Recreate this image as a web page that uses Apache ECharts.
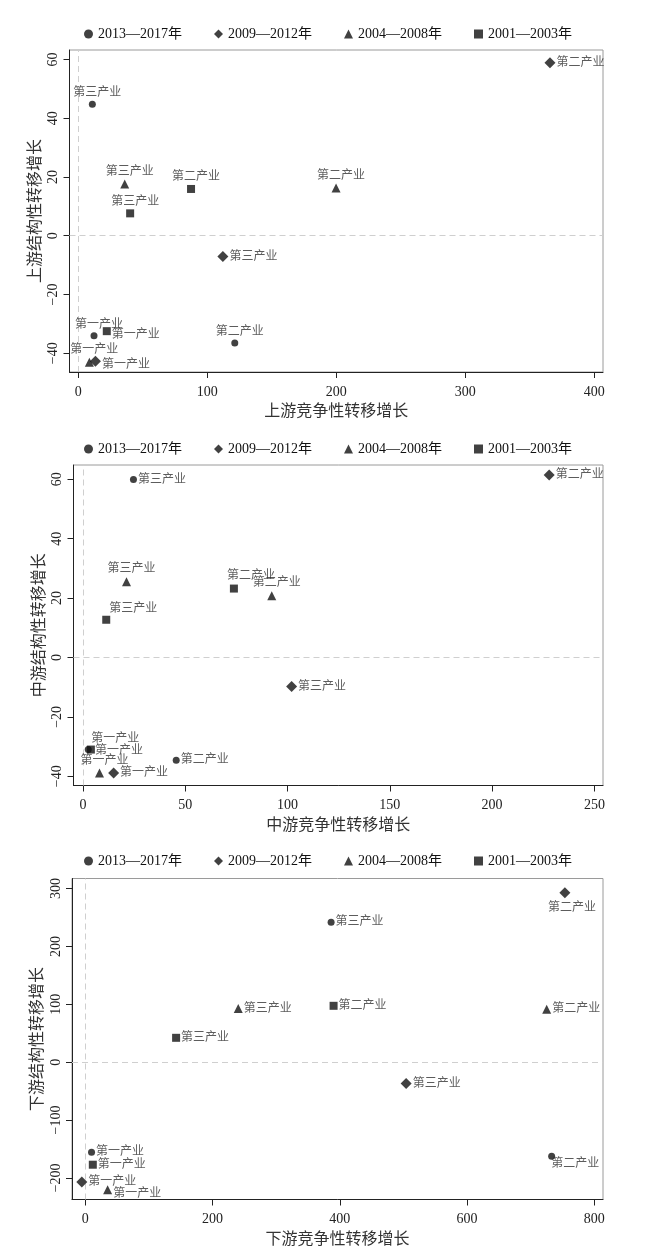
<!DOCTYPE html>
<html><head><meta charset="utf-8">
<script src="https://cdn.jsdelivr.net/npm/echarts@6/dist/echarts.min.js"></script>
<style>html,body{margin:0;padding:0;background:#fff}#c{width:650px;height:1260px}</style>
</head><body><div id="c"></div>
<script>
// ---------------- DATA ----------------
const periods = ['2013—2017年', '2009—2012年', '2004—2008年', '2001—2003年'];
const industries = ['第一产业', '第二产业', '第三产业'];

// 上游: [第一产业, 第二产业, 第三产业]
const upX_2013 = [12.2, 121.3, 10.9];
const upY_2013 = [-34.1, -36.5, 44.7];
const upX_2009 = [13.3, 365.6, 112.1];
const upY_2009 = [-42.7, 58.9, -7.1];
const upX_2004 = [8.6, 199.8, 36.0];
const upY_2004 = [-43.1, 16.2, 17.6];
const upX_2001 = [22.1, 87.4, 40.2];
const upY_2001 = [-32.5, 15.9, 7.6];

// 中游
const midX_2013 = [2.6, 45.6, 24.7];
const midY_2013 = [-31.0, -34.6, 59.9];
const midX_2009 = [15.0, 227.9, 102.0];
const midY_2009 = [-38.9, 61.4, -9.8];
const midX_2004 = [8.1, 92.3, 21.3];
const midY_2004 = [-38.9, 20.8, 25.5];
const midX_2001 = [3.9, 73.8, 11.4];
const midY_2001 = [-31.0, 23.2, 12.7];

// 下游
const downX_2013 = [9.8, 732.9, 386.3];
const downY_2013 = [-155.8, -162.4, 241.9];
const downX_2009 = [-5.5, 753.7, 504.2];
const downY_2009 = [-207.0, 292.6, -36.9];
const downX_2004 = [35.1, 725.1, 240.4];
const downY_2004 = [-220.3, 91.6, 92.7];
const downX_2001 = [11.8, 390.2, 142.7];
const downY_2001 = [-177.2, 97.4, 42.1];

// tick labels
const upXTicks = [0, 100, 200, 300, 400];
const upYTicks = [-40, -20, 0, 20, 40, 60];
const midXTicks = [0, 50, 100, 150, 200, 250];
const midYTicks = [-40, -20, 0, 20, 40, 60];
const downXTicks = [0, 200, 400, 600, 800];
const downYTicks = [-200, -100, 0, 100, 200, 300];

const axisTitles = [
  ['上游竞争性转移增长', '上游结构性转移增长'],
  ['中游竞争性转移增长', '中游结构性转移增长'],
  ['下游竞争性转移增长', '下游结构性转移增长']
];

// ---------------- STYLE ----------------
const FONT = '"Liberation Serif", "Noto Sans CJK SC", serif';
const symbols = ['circle', 'diamond', 'triangle', 'rect'];
const symbolSizes = [7, 11, 9, 8];

// label placement per panel / period / industry
const placeUp = [['top', 'top', 'top'], ['rightlow', 'right', 'right'], ['top', 'top', 'top'], ['rightlow', 'top', 'top']];
const placeMid = [['topright', 'right', 'right'], ['right', 'right', 'right'], ['top', 'top', 'top'], ['right0', 'topright2', 'topright']];
const placeDown = [['right', 'lowright', 'right'], ['right', 'bottom', 'right'], ['rightlow', 'right', 'right'], ['right', 'right', 'right']];

const labelStyles = {
  top: { position: 'top', distance: 2, offset: [5, 0] },
  right: { position: 'right', distance: 1, offset: [0, 0] },
  right0: { position: 'right', distance: 0, offset: [0, 1] },
  rightlow: { position: 'right', distance: 1, offset: [0, 4] },
  topright: { position: 'top', distance: 1, offset: [27, 0] },
  topright2: { position: 'top', distance: 3, offset: [17, 0] },
  bottom: { position: 'bottom', distance: 3, offset: [7, 0] },
  lowright: { position: 'right', distance: 0, offset: [-4, 8] }
};

// layout (pixels)
const grids = [
  { left: 69.5, top: 50, width: 533.5, height: 322 },
  { left: 73.5, top: 465, width: 529.5, height: 320.5 },
  { left: 72, top: 878.5, width: 531, height: 321 }
];
const ranges = [
  { x: [-6.8, 406.7], y: [-46.4, 63.2] },
  { x: [-4.6, 254.2], y: [-43.1, 64.8] },
  { x: [-20.9, 813.6], y: [-237.3, 317.4] }
];
const legendTops = [22, 437, 849];

const panels = [
  { xs: [upX_2013, upX_2009, upX_2004, upX_2001], ys: [upY_2013, upY_2009, upY_2004, upY_2001], place: placeUp, xt: upXTicks, yt: upYTicks },
  { xs: [midX_2013, midX_2009, midX_2004, midX_2001], ys: [midY_2013, midY_2009, midY_2004, midY_2001], place: placeMid, xt: midXTicks, yt: midYTicks },
  { xs: [downX_2013, downX_2009, downX_2004, downX_2001], ys: [downY_2013, downY_2009, downY_2004, downY_2001], place: placeDown, xt: downXTicks, yt: downYTicks }
];

const minusFmt = v => String(v).replace('-', '−');

const option = {
  animation: false,
  backgroundColor: '#fff',
  textStyle: { fontFamily: FONT },
  legend: legendTops.map(t => ({
    top: t, left: 79, itemWidth: 9, itemHeight: 9, itemGap: 32,
    data: periods, selectedMode: false,
    textStyle: { fontFamily: FONT, fontSize: 14, color: '#111' }
  })),
  grid: grids.map(g => Object.assign({ show: true, borderColor: '#9a9a9a', borderWidth: 1, containLabel: false }, g)),
  xAxis: panels.map((p, i) => ({
    type: 'value', gridIndex: i, min: ranges[i].x[0], max: ranges[i].x[1],
    name: axisTitles[i][0], nameLocation: 'middle', nameGap: 32, nameMoveOverlap: false,
    nameTextStyle: { fontFamily: FONT, fontSize: 16, color: '#333' },
    axisLine: { show: true, onZero: false, lineStyle: { color: '#222', width: 1 } },
    axisTick: { show: true, length: 6, customValues: p.xt, lineStyle: { color: '#222' } },
    axisLabel: { customValues: p.xt, margin: 13, fontFamily: FONT, fontSize: 14, color: '#222', formatter: minusFmt },
    splitLine: { show: false }
  })),
  yAxis: panels.map((p, i) => ({
    type: 'value', gridIndex: i, min: ranges[i].y[0], max: ranges[i].y[1],
    name: axisTitles[i][1], nameLocation: 'middle', nameGap: 26, nameMoveOverlap: false,
    nameTextStyle: { fontFamily: FONT, fontSize: 16, color: '#333' },
    axisLine: { show: true, onZero: false, lineStyle: { color: '#222', width: 1 } },
    axisTick: { show: true, length: 6, customValues: p.yt, lineStyle: { color: '#222' } },
    axisLabel: { customValues: p.yt, rotate: 90, margin: 9, fontFamily: FONT, fontSize: 14, color: '#222', formatter: minusFmt },
    splitLine: { show: false }
  })),
  series: []
};

panels.forEach((p, pi) => {
  periods.forEach((name, k) => {
    const s = {
      type: 'scatter', name: name, xAxisIndex: pi, yAxisIndex: pi,
      symbol: symbols[k], symbolSize: symbolSizes[k],
      itemStyle: { color: '#111' },
      label: { show: true, formatter: d => d.name, fontFamily: FONT, fontSize: 12, color: '#333' },
      data: industries.map((ind, i) => ({
        name: ind,
        value: [p.xs[k][i], p.ys[k][i]],
        label: Object.assign({}, labelStyles[p.place[k][i]])
      })),
      z: 3
    };
    if (k === 0) {
      s.markLine = {
        silent: true, symbol: 'none', label: { show: false }, z: 1,
        lineStyle: { type: [6, 4], color: '#cfcfcf', width: 1 },
        data: [{ xAxis: 0 }, { yAxis: 0 }]
      };
    }
    option.series.push(s);
  });
});

const chart = echarts.init(document.getElementById('c'), null, { renderer: 'canvas' });
chart.setOption(option);
</script>
</body></html>
